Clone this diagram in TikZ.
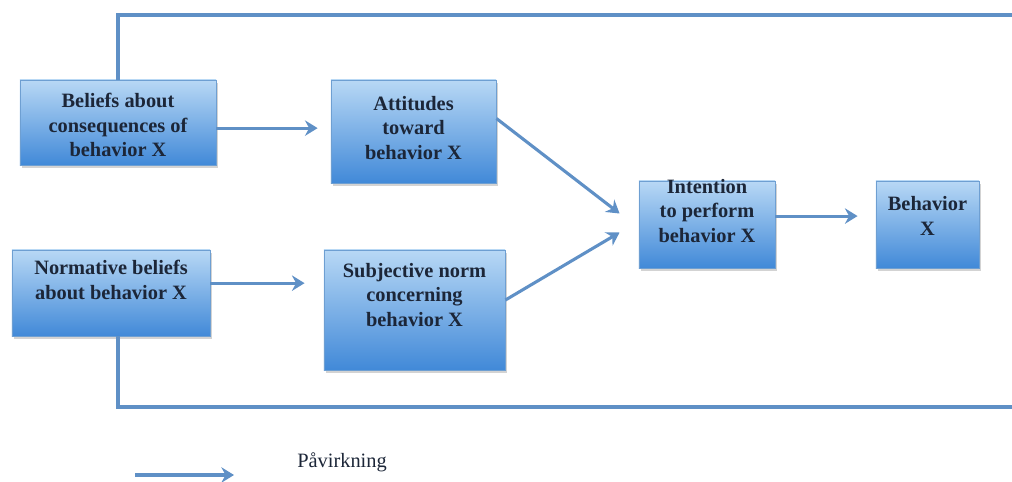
\documentclass[tikz,border=0pt]{standalone}
\usepackage{fontspec}
\setmainfont{Liberation Serif}
\usetikzlibrary{arrows.meta,calc,shadows}
\definecolor{flow}{HTML}{5F90C6}
\definecolor{boxtop}{HTML}{B8D8F5}
\definecolor{boxbot}{HTML}{4189D8}
\definecolor{boxedge}{HTML}{6E9FD2}
\definecolor{ink}{HTML}{1C2638}
\begin{document}
\begin{tikzpicture}[x=0.025cm,y=-0.025cm,
  stage/.style={rectangle,draw=boxedge,line width=0.6pt,top color=boxtop,bottom color=boxbot,
    drop shadow={opacity=0.35,shadow xshift=1.2pt,shadow yshift=-1.8pt}},
  stagetext/.style={align=center,text=ink,font=\fontsize{14.5}{17.7}\selectfont\bfseries,inner sep=0pt},
  flowline/.style={draw=flow,line width=2.2pt},
  flowarrow/.style={flowline,-{Stealth[length=9pt,width=11pt,inset=3pt]}}]
\useasboundingbox (0,0) rectangle (1012,481);

% boxes
\node[stage,minimum width=4.9cm,minimum height=2.125cm] (b1) at (118,122.5) {};
\node[stage,minimum width=4.125cm,minimum height=2.575cm] (b2) at (413.5,131.5) {};
\node[stage,minimum width=4.95cm,minimum height=2.15cm] (b3) at (111,293) {};
\node[stage,minimum width=4.525cm,minimum height=3cm] (b4) at (414.5,310) {};
\node[stage,minimum width=3.4cm,minimum height=2.175cm] (b5) at (707,224.5) {};
\node[stage,minimum width=2.575cm,minimum height=2.175cm] (b6) at (927.5,224.5) {};

% box captions
\node[stagetext] (t1) at (118,125) {Beliefs about\\consequences of\\behavior X};
\node[stagetext] (t2) at (413.5,128) {Attitudes\\toward\\behavior X};
\node[stagetext] (t3) at (111,280) {Normative beliefs\\about behavior X};
\node[stagetext] (t4) at (414.5,295) {Subjective norm\\concerning\\behavior X};
\node[stagetext] (t5) at (707,211) {Intention\\to perform\\behavior X};
\node[stagetext] (t6) at (927.5,216) {Behavior\\X};

% feedback lines leaving at the right edge
\coordinate (topend) at (1012,15);
\coordinate (botend) at (1012,407);
\draw[flowline] (b1.north) |- (topend);
\draw[flowline] (b3.south -| b1.north) |- (botend);

% influence arrows
\draw[flowarrow,shorten >=9.2pt] ([yshift=-4pt]b1.east) -- ([yshift=-4pt]b1.east -| b2.west);
\draw[flowarrow,shorten >=13.5pt] ([yshift=7pt]b3.east) -- ([yshift=7pt]b3.east -| b4.west);
\coordinate (in5a) at ($(b5.west)+(-19,-11)$);
\coordinate (in5b) at ($(b5.west)+(-19,8)$);
\draw[flowarrow] ($(b2.east)+(0,-13)$) -- (in5a);
\draw[flowarrow] ($(b4.east)+(0,-10)$) -- (in5b);
\draw[flowarrow,shorten >=12.8pt] ([yshift=6pt]b5.east) -- ([yshift=6pt]b5.east -| b6.west);

% legend
\coordinate (lgs) at (135,475);
\coordinate (lge) at (234,475);
\draw[flowarrow] (lgs) -- (lge);
\node[text=ink,font=\fontsize{14.5}{17}\selectfont] (lgt) at (342,462) {Påvirkning};
\end{tikzpicture}
\end{document}
